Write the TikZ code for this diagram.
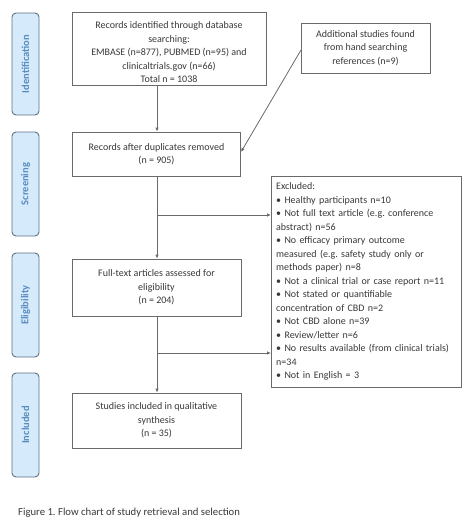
\documentclass[tikz,border=0pt]{standalone}
\usepackage{fontspec}
\setmainfont{Carlito}
\usetikzlibrary{arrows.meta}
\frenchspacing
\definecolor{barfill}{HTML}{D5EAFA}
\definecolor{barline}{HTML}{5E7286}
\definecolor{bartext}{HTML}{5A8CBF}
\definecolor{boxline}{HTML}{6A6A6A}
\definecolor{txt}{HTML}{383838}
\begin{document}
\begin{tikzpicture}[x=1pt,y=-1pt,
  font=\fontsize{10}{13.5}\selectfont, text=txt,
  phase/.style={draw=barline, line width=0.9pt, fill=barfill, rounded corners=4pt},
  phasetext/.style={rotate=90, text=bartext, font=\fontsize{10.5}{12}\selectfont\bfseries},
  flowbox/.style={draw=boxline, line width=0.8pt, align=center, inner sep=0pt},
  boxtext/.style={align=center, inner sep=0pt},
  conn/.style={draw=boxline, line width=0.8pt, -{Latex[length=4pt,width=3.5pt]}},
  plain/.style={draw=boxline, line width=0.8pt}]
\useasboundingbox (0,0) rectangle (474,524);
% phase bars
\draw[phase] (12,13) rectangle (39,115);
\node[phasetext] (pid) at (25.5,64) {Identification};
\draw[phase] (12,132) rectangle (39,236);
\node[phasetext] (psc) at (25.5,184) {Screening};
\draw[phase] (12,253) rectangle (39,357);
\node[phasetext] (pel) at (25.5,305) {Eligibility};
\draw[phase] (12,373) rectangle (39,477);
\node[phasetext] (pin) at (25.5,425) {Included};
% boxes
\node[flowbox, minimum width=194pt, minimum height=73pt] (b1) at (169,48.5) {};
\node[boxtext] (b1t) at (169,52.5)
  {Records identified through database\\searching:\\EMBASE (n=877), PUBMED (n=95) and\\clinicaltrials.gov (n=66)\\Total n = 1038};
\node[flowbox, minimum width=129pt, minimum height=50pt] (add) at (365.5,48)
  {Additional studies found\\from hand searching\\references (n=9)};
\node[flowbox, minimum width=168pt, minimum height=44pt] (b2) at (156.5,154)
  {Records after duplicates removed\\(n = 905)};
\node[flowbox, minimum width=169pt, minimum height=57pt] (b3) at (156.5,287.5)
  {Full-text articles assessed for\\eligibility\\(n = 204)};
\node[flowbox, minimum width=169pt, minimum height=55pt] (b4) at (156.5,420.5)
  {Studies included in qualitative\\synthesis\\(n = 35)};
\node[draw=boxline, line width=0.8pt, minimum width=190pt, minimum height=211pt,
  anchor=north west, inner sep=0pt] (exc) at (271,176) {};
\node[anchor=north west, align=left, text width=186pt, inner sep=0pt] (exct) at (276,182.5)
  {\raggedright Excluded:\\
  \textbullet\ Healthy participants n=10\\
  \textbullet\ Not full text article (e.g. conference\\abstract) n=56\\
  \textbullet\ No efficacy primary outcome\\measured (e.g. safety study only or\\methods paper) n=8\\
  \textbullet\ Not a clinical trial or case report n=11\\
  \textbullet\ Not stated or quantifiable\\concentration of CBD n=2\\
  \textbullet\ Not CBD alone n=39\\
  \textbullet\ Review/letter n=6\\
  \textbullet\ No results available (from clinical trials)\\n=34\\
  \textbullet\ Not in English = 3};
% connectors
\coordinate (j1) at (157,215);
\coordinate (j2) at (157,353);
\coordinate (addp) at (301,50);
\coordinate (b2p) at (241,152);
\draw[conn] (b1.south -| j1) -- (b2.north -| j1);
\draw[conn] (addp) -- (b2p);
\draw[conn] (b2.south -| j1) -- (b3.north -| j1);
\draw[conn] (j1) -- (j1 -| exc.west);
\draw[conn] (b3.south -| j2) -- (b4.north -| j2);
\draw[conn] (j2) -- (j2 -| exc.west);
% caption
\node[anchor=west, inner sep=0pt, font=\fontsize{10.7}{13}\selectfont] (cap) at (18,513)
  {Figure 1. Flow chart of study retrieval and selection};
\end{tikzpicture}
\end{document}
